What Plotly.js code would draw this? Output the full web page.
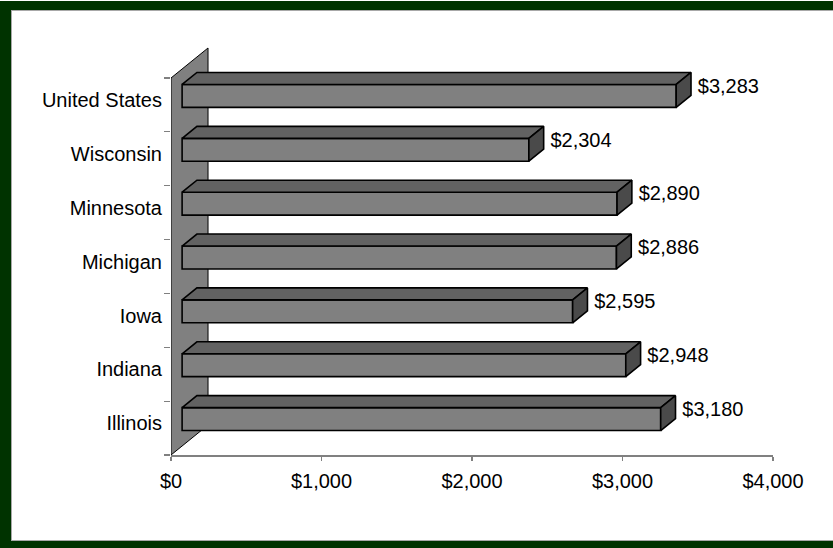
<!DOCTYPE html>
<html>
<head>
<meta charset="utf-8">
<script src="https://cdn.plot.ly/plotly-3.0.1.min.js"></script>
<style>
  html, body { margin:0; padding:0; background:#ffffff; overflow:hidden; }
  #wrap { position:relative; width:833px; height:548px; overflow:hidden; background:#ffffff; }
  #frame { position:absolute; left:0; top:1px; width:900px; height:547px; box-sizing:border-box;
           background:#ffffff; border-left:11px solid #003300; border-top:9px solid #003300; border-bottom:7px solid #003300; }
  #inner { position:absolute; left:11px; top:10px; width:900px; height:531px; box-sizing:border-box;
           border-top:1px solid #a8a8a8; border-left:1px solid #a8a8a8; border-bottom:1px solid #a8a8a8; }
  #rightfix { position:fixed; right:0; top:10px; width:14px; height:531px; background:#ffffff;
              border-top:1px solid #a8a8a8; border-bottom:1px solid #a8a8a8; box-sizing:border-box; }
  #chart { position:absolute; left:0; top:0; width:833px; height:548px; }
</style>
</head>
<body>
<div id="wrap">
  <div id="frame"></div>
  <div id="inner"></div>
  <div id="chart"></div>
</div>
<div id="rightfix"></div>
<script>
// ---- data (bottom to top) ----
const categories = ['Illinois', 'Indiana', 'Iowa', 'Michigan', 'Minnesota', 'Wisconsin', 'United States'];
const values = [3180, 2948, 2595, 2886, 2890, 2304, 3283];
const xTickVals = [0, 1000, 2000, 3000, 4000];
const xTickText = xTickVals.map(v => '$' + v.toLocaleString('en-US'));

// ---- 3D look (styles) ----
const DX = 246;      // wall depth in x data units
const DY = 0.557;    // wall depth in y data units
const F0 = 0.3, F1 = 0.7;  // bar front / back depth fraction
const H = 0.425;     // bar thickness (fraction of band)
const labelGap = 45; // data units gap before value label

const idx = categories.map((c, i) => i);
const yc = idx.map(i => i + 0.5 + F0 * DY);
const bx = F0 * DX;
const ddx = (F1 - F0) * DX, ddy = (F1 - F0) * DY;

// top faces & side faces as polygons separated by nulls
const topX = [], topY = [], sideX = [], sideY = [];
values.forEach((v, i) => {
  const yt = yc[i] + H / 2, yb = yc[i] - H / 2;
  topX.push(bx, bx + v, bx + v + ddx, bx + ddx, bx, null);
  topY.push(yt, yt, yt + ddy, yt + ddy, yt, null);
  sideX.push(bx + v, bx + v, bx + v + ddx, bx + v + ddx, bx + v, null);
  sideY.push(yb, yt, yt + ddy, yb + ddy, yb, null);
});

const font = { family: 'Liberation Sans, Arial, sans-serif', size: 20, color: '#000000' };

const traces = [
  {
    type: 'bar', orientation: 'h',
    y: yc, x: values, base: values.map(() => bx), width: H,
    marker: { color: '#808080', line: { color: '#000000', width: 1.6 } },
    hoverinfo: 'skip', showlegend: false
  },
  {
    type: 'scatter', mode: 'lines', x: topX, y: topY, fill: 'toself',
    fillcolor: '#626262', line: { color: '#000000', width: 1.6 },
    hoverinfo: 'skip', showlegend: false
  },
  {
    type: 'scatter', mode: 'lines', x: sideX, y: sideY, fill: 'toself',
    fillcolor: '#4a4a4a', line: { color: '#000000', width: 1.6 },
    hoverinfo: 'skip', showlegend: false
  },
  {
    type: 'scatter', mode: 'text',
    x: values.map(v => bx + v + ddx + labelGap),
    y: yc.map(y => y + H / 2 - 0.06),
    text: values.map(v => '$' + v.toLocaleString('en-US')),
    textposition: 'middle right', textfont: font,
    cliponaxis: false, hoverinfo: 'skip', showlegend: false
  }
];

const layout = {
  width: 833, height: 548,
  margin: { l: 171, r: 60, t: 46, b: 93 },
  paper_bgcolor: 'rgba(0,0,0,0)', plot_bgcolor: 'rgba(0,0,0,0)',
  font: font,
  showlegend: false,
  xaxis: {
    range: [0, 4000], tickvals: xTickVals, ticktext: xTickText,
    showgrid: false, zeroline: false, showline: true, linecolor: '#808080', linewidth: 1.5,
    ticks: 'outside', ticklen: 4, tickcolor: '#808080', tickwidth: 1.2,
    ticklabelstandoff: 3,
    tickfont: font, fixedrange: true
  },
  yaxis: {
    range: [0, 7.594],
    tickvals: idx.map(i => i + 0.59), ticktext: categories,
    ticks: 'outside', ticklen: 4, tickcolor: 'rgba(0,0,0,0)',
    minor: { tickmode: 'array', tickvals: idx.concat([categories.length]), ticks: 'outside', ticklen: 6, tickcolor: '#808080', tickwidth: 1.2, showgrid: false },
    showgrid: false, zeroline: false, showline: false,
    tickfont: font, fixedrange: true
  },
  shapes: [
    {
      type: 'path', layer: 'below', xref: 'x', yref: 'y',
      path: `M 0 0 L 0 ${categories.length} L ${DX} ${categories.length + DY} L ${DX} ${DY} Z`,
      fillcolor: '#808080', line: { color: '#000000', width: 1 }
    }
  ]
};

Plotly.newPlot('chart', traces, layout, { staticPlot: true, displayModeBar: false });
</script>
</body>
</html>
